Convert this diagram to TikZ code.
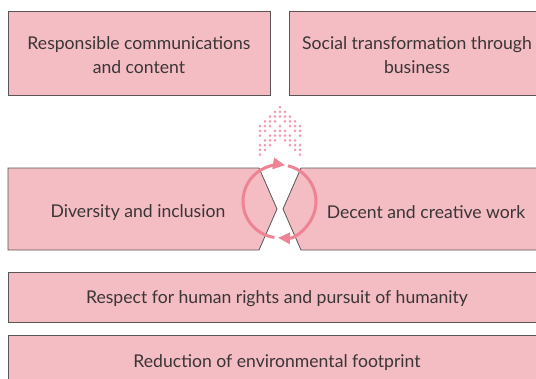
\documentclass[tikz,border=0pt]{standalone}
\usepackage{fontspec}
\setmainfont{Lato}
\usetikzlibrary{arrows.meta}
\definecolor{boxfill}{HTML}{F4BCC3}
\definecolor{boxline}{HTML}{5A5656}
\definecolor{txt}{HTML}{3A3536}
\definecolor{ringcol}{HTML}{EE8394}
\definecolor{dotcol}{HTML}{F29CAC}
\begin{document}
\begin{tikzpicture}[x=1pt,y=-1pt,
  box/.style={draw=boxline, fill=boxfill, line width=0.8pt, rectangle, inner sep=0pt, anchor=north west},
  notchbox/.style={draw=boxline, fill=boxfill, line width=0.8pt},
  lbl/.style={text=txt, font=\fontsize{17.6}{24}\selectfont, align=center, inner sep=0pt},
  ring/.style={draw=ringcol, line width=3pt, -{Triangle[length=12pt,width=11pt]}},
  dotstyle/.style={fill=dotcol, draw=none}]
\clip (0,0) rectangle (536,378);
\fill[white] (0,0) rectangle (536,378);
% boxes
\node[box, minimum width=262pt, minimum height=84pt] (b1) at (8,11) {};
\node[box, minimum width=280pt, minimum height=84pt] (b2) at (289,11) {};
\node[box, minimum width=560pt, minimum height=50pt] (b5) at (8,272) {};
\node[box, minimum width=560pt, minimum height=60pt] (b6) at (8,335) {};
\draw[notchbox] (8,168) -- (259,168) -- (277,209) -- (259,250) -- (8,250) -- cycle;
\draw[notchbox] (560,168) -- (301,168) -- (283,209) -- (301,250) -- (560,250) -- cycle;
% labels
\node[lbl] (t1) at (139,55) {Responsible communications\\and content};
\node[lbl] (t2) at (417,55) {Social transformation through\\business};
\node[lbl] (t3) at (138,212.5) {Diversity and inclusion};
\node[lbl] (t4) at (426,212.5) {Decent and creative work};
\node[lbl] (t5) at (277,299) {Respect for human rights and pursuit of humanity};
\node[lbl] (t6) at (277,363) {Reduction of environmental footprint};
% dotted arrow
\foreach \rr in {0,...,10}{
  \foreach \cc in {0,...,8}{
    \pgfmathtruncatemacro\dd{abs(\cc-4)}
    \pgfmathtruncatemacro\sh{or(and(\dd<=\rr,\dd>=\rr-2),and(\dd<=\rr-4,\dd>=\rr-6))}
    \ifnum\sh=1 \fill[dotstyle] (260+5*\cc, 107+4.75*\rr) circle[radius=1.5]; \fi
  }
}
% ring
\coordinate (rc) at (279.5,201.3);
\draw[ring] (rc) ++(-76.5:36.5) arc[start angle=-76.5, end angle=92.4, radius=36.5];
\draw[ring] (rc) ++(98:36.5) arc[start angle=98, end angle=278.7, radius=36.5];
\end{tikzpicture}
\end{document}
